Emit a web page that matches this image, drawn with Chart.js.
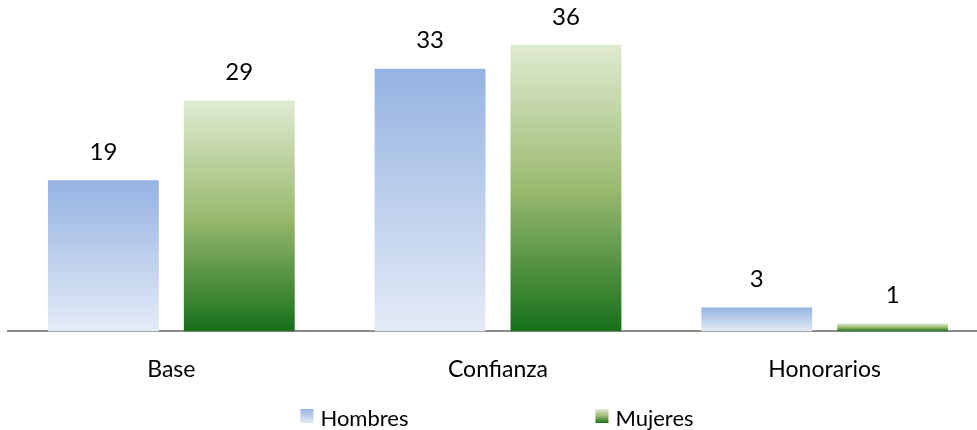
<!DOCTYPE html>
<html>
<head>
<meta charset="utf-8">
<script src="https://cdn.jsdelivr.net/npm/chart.js@4/dist/chart.umd.min.js"></script>
<style>
  html, body { margin: 0; padding: 0; background: #fff; overflow: hidden; }
  #wrap { position: absolute; left: 0; top: 0; width: 996px; height: 430px; }
</style>
</head>
<body>
<div id="wrap"><canvas id="myChart"></canvas></div>
<script>
var categories = ['Base', 'Confianza', 'Honorarios'];
var hombres = [19, 33, 3];
var mujeres = [29, 36, 1];
var seriesNames = ['Hombres', 'Mujeres'];

var blueStops = [[0, '#95b3e2'], [1, '#e4ebf6']];
var greenStops = [[0, '#e0ebd2'], [0.5, '#9bba70'], [1, '#17701a']];

function barGradient(stops) {
    return function (context) {
        var chart = context.chart;
        if (!chart.chartArea || context.raw === undefined) return stops[0][1];
        var y = chart.scales.y;
        var top = y.getPixelForValue(context.raw);
        var bottom = y.getPixelForValue(0);
        if (bottom - top < 1) top = bottom - 1;
        var g = chart.ctx.createLinearGradient(0, top, 0, bottom);
        stops.forEach(function (s) { g.addColorStop(s[0], s[1]); });
        return g;
    };
}

// values above the bars
var valueLabels = {
    id: 'valueLabels',
    afterDatasetsDraw: function (chart) {
        var ctx = chart.ctx;
        ctx.save();
        ctx.font = '24px Lato';
        ctx.fillStyle = '#000';
        ctx.textAlign = 'center';
        ctx.textBaseline = 'middle';
        chart.data.datasets.forEach(function (ds, i) {
            chart.getDatasetMeta(i).data.forEach(function (bar, j) {
                ctx.fillText(ds.data[j], bar.x, bar.y - 28);
            });
        });
        ctx.restore();
    }
};

// legend along the bottom, wide gap between the two entries
var bottomLegend = {
    id: 'bottomLegend',
    afterDraw: function (chart) {
        var ctx = chart.ctx;
        var sets = [blueStops, greenStops];
        ctx.save();
        ctx.font = '22px Lato';
        ctx.textBaseline = 'middle';
        var gap = 187, box = 13, space = 7;
        var widths = seriesNames.map(function (n) { return box + space + ctx.measureText(n).width; });
        var total = widths[0] + gap + widths[1];
        var x = chart.width / 2 - total / 2 - 1;
        var yMid = 419;
        seriesNames.forEach(function (n, i) {
            var g = ctx.createLinearGradient(0, yMid - 10, 0, yMid + 4);
            sets[i].forEach(function (s) { g.addColorStop(s[0], s[1]); });
            ctx.fillStyle = g;
            ctx.fillRect(x, yMid - 10, box, 14);
            ctx.fillStyle = '#000';
            ctx.fillText(n, x + box + space, yMid);
            x += widths[i] + gap;
        });
        ctx.restore();
    }
};

var ctx = document.getElementById('myChart').getContext('2d');
var myChart = new Chart(ctx, {
    type: 'bar',
    data: {
        labels: categories,
        datasets: [{
            label: seriesNames[0],
            data: hombres,
            backgroundColor: barGradient(blueStops),
            borderWidth: 0,
        }, {
            label: seriesNames[1],
            data: mujeres,
            backgroundColor: barGradient(greenStops),
            borderWidth: 0,
        }],
    },
    options: {
        responsive: true,
        maintainAspectRatio: false,
        animation: false,
        categoryPercentage: 0.832,
        barPercentage: 0.816,
        layout: { padding: { left: 8, right: 8, top: 13, bottom: 23 } },
        scales: {
            x: {
                grid: { display: false, drawTicks: false },
                border: { display: true, color: '#8c8c8c', width: 2 },
                ticks: { color: '#000', font: { family: 'Lato', size: 23 }, padding: 24 },
            },
            y: {
                display: false,
                min: 0,
                max: 40,
            }
        },
        plugins: {
            legend: { display: false },
            tooltip: { enabled: false },
        }
    },
    plugins: [valueLabels, bottomLegend]
});
</script>
</body>
</html>
